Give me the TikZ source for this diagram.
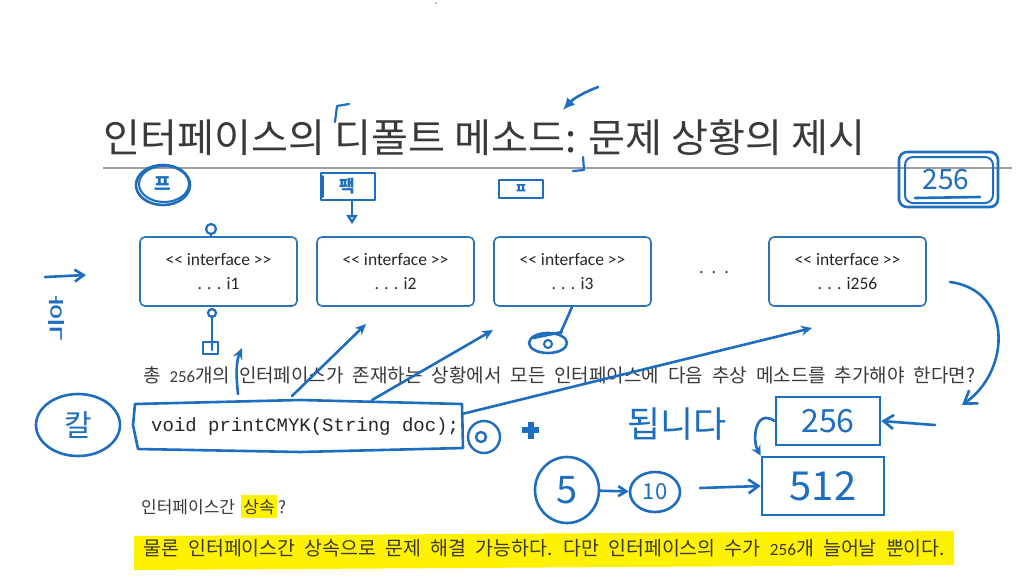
\documentclass[tikz,border=0pt]{standalone}
\usepackage{fontspec}
\usepackage{graphicx}
\newfontfamily\krfont{Noto Sans CJK KR}
\newfontfamily\calfont{Carlito}
\newfontfamily\codefont{Liberation Mono}
\usetikzlibrary{arrows.meta,shapes.geometric}
\definecolor{ink}{HTML}{1E6EC0}
\definecolor{boxblue}{HTML}{2E75B6}
\definecolor{hl}{HTML}{FFF200}
\definecolor{txt}{HTML}{3A3A3A}
\tikzset{
  ink/.style={draw=ink, line width=2.6pt, line cap=round, line join=round},
  inkarrow/.style={ink, -{Stealth[length=11pt,width=10pt]}},
  hw/.style={text=ink, inner sep=0pt},
  ibox/.style={draw=boxblue, line width=1.6pt, rounded corners=5pt,
    minimum width=157pt, minimum height=69pt, align=center,
    font=\calfont\fontsize{17.5}{24}\selectfont, text=black!85, inner sep=0pt},
  body/.style={anchor=base west, inner sep=0pt, text=txt}
}
\begin{document}
\begin{tikzpicture}[x=1pt,y=-1pt]
\useasboundingbox[fill=white] (0,0) rectangle (1032,584);
\fill[gray] (436,3) circle (0.8);

% highlights
\draw[hl, line width=34pt] (134,553) -- (954,548);

% title and rule
\node[body, text=txt] (title) at (103,152)
  {\resizebox{762pt}{33pt}{\krfont 인터페이스의 디폴트 메소드: 문제 상황의 제시}};
\draw[gray!75, line width=1.3pt] (103,168) coordinate (r1) -- (1012,168) coordinate (r2);

% interface boxes
\node[ibox] (i1) at (218.5,271.5) {<{}< interface >{}>\\. . . i1};
\node[ibox] (i2) at (395.5,271.5) {<{}< interface >{}>\\. . . i2};
\node[ibox] (i3) at (572.5,271.5) {<{}< interface >{}>\\. . . i3};
\node[ibox] (i256) at (847.5,271.5) {<{}< interface >{}>\\. . . i256};
\node[font=\calfont\fontsize{18}{20}\selectfont, text=black!80] (dots) at (714,273) {.\hspace{8pt}.\hspace{8pt}.};

% body text
\node[body] (q) at (143,382)
  {\resizebox{832pt}{!}{\krfont\fontsize{17}{17}\selectfont\spaceskip=8pt 총 {\calfont\fontsize{15}{15}\selectfont 256}개의 인터페이스가 존재하는 상황에서 모든 인터페이스에 다음 추상 메소드를 추가해야 한다면?}};
\node[body, font=\codefont\fontsize{19}{19}\selectfont, text=black!85] (code) at (151,431) {void printCMYK(String doc);};
\node[body, font=\krfont\fontsize{17}{17}\selectfont] (inh1) at (141,513) {인터페이스간};
\node[anchor=base west, inner xsep=2pt, inner ysep=4pt, fill=hl, text=txt, font=\krfont\fontsize{17}{17}\selectfont] (inh2) at ([xshift=6pt]inh1.base east) {상속};
\node[body, font=\krfont\fontsize{17}{17}\selectfont] (inh3) at ([xshift=1pt]inh2.base east) {?};
\node[body] (ans) at (143,555)
  {\resizebox{802pt}{!}{\krfont\fontsize{17}{17}\selectfont\spaceskip=8pt 물론 인터페이스간 상속으로 문제 해결 가능하다. 다만 인터페이스의 수가 {\calfont\fontsize{15}{15}\selectfont 256}개 늘어날 뿐이다.}};

% ---------------- handwritten annotations ----------------
% marks around title
\draw[ink, line width=2.2pt] (335,122) -- (337,106) -- (349,104);
\draw[ink, -{Latex[length=12pt,width=11pt]}] (598,87) .. controls (585,92) and (574,98) .. (563,110);
\draw[ink, line width=2.2pt] (583,157) -- (584,170) -- (573,171);

% top labels
\node[hw, font=\krfont\fontsize{18}{18}\selectfont\bfseries] (p1) at (163,184) {프};
\draw[ink] (163,185) ellipse (27pt and 20pt);
\draw[ink, line width=2pt] (164,184) ellipse (25pt and 18pt);
\node[hw, font=\krfont\fontsize{17}{17}\selectfont\bfseries] (p2) at (347,186) {팩};
\draw[ink] (321,173) rectangle (375,200);
\draw[ink, line width=2pt] (323,176) -- (323,197);
\coordinate (p2a) at (352,201);
\coordinate (p2b) at (352,224);
\draw[ink, -{Triangle[open,length=9pt,width=11pt]}] (p2a) -- (p2b);
\node[hw, font=\krfont\fontsize{14}{14}\selectfont\bfseries] (p3) at (521,189) {ㅍ};
\draw[ink] (499,180) rectangle (543,198);

\node[hw, font=\krfont\fontsize{28}{28}\selectfont] (n256a) at (946,180) {256};
\draw[ink] (899,152) [rounded corners=8pt] rectangle (998,207);
\draw[ink, line width=2pt] (905,157) [rounded corners=8pt] rectangle (993,203);
\draw[ink] (915,198) -- (980,197);

% marks near i1
\draw[ink, line width=2.2pt] (211,229) circle (5pt);
\draw[ink, line width=2.2pt] (211,234) -- (i1.north -| 211,0);
\coordinate (u1) at (212,350);
\draw[ink] (u1) -- (212,316);
\draw[ink, line width=2.2pt] (212,313) circle (4pt);
\draw[ink, line width=2.2pt] (203,342) rectangle (218,354);
\draw[inkarrow] (238,394) .. controls (236,375) and (236,362) .. (242,348);
\draw[inkarrow] (292,396) -- (366,324);
\draw[inkarrow] (372,400) -- (493,330);
% near i3
\draw[ink] (548,343) ellipse (19pt and 10pt);
\draw[ink, line width=2pt] (548,344) circle (4pt);
\draw[ink] (560,334) -- (572,307);
\draw[ink] (533,338) -- (562,332);
\draw[inkarrow] (462,414) -- (812,328);

% code box
\draw[ink] (135,404) -- (300,400) -- (462,404) -- (463,448) -- (300,452) -- (138,449) -- (133,425) -- cycle;
\node[hw, draw=ink, line width=2.4pt, circle, minimum size=32pt] (o1) at (484,437) {};
\draw[ink, line width=2.4pt] (481,437) circle (5pt);
\draw[ink, line width=6pt, line cap=butt] (522,430) -- (539,430);
\draw[ink, line width=6pt, line cap=butt] (530.5,421.5) -- (530.5,438.5);

% left side
\coordinate (la) at (45,277);
\coordinate (lb) at (86,275);
\draw[ink, -{Straight Barb[length=9pt,width=12pt]}] (la) -- (lb);
\node[hw, xscale=0.7, yscale=1.7, font=\krfont\fontsize{28}{28}\selectfont] (heuk) at (57,318) {흑};
\node[hw, font=\krfont\fontsize{30}{30}\selectfont] (kal) at (78,425) {칼};
\draw[ink] (78,425) ellipse (42pt and 31pt);

% right side
\node[hw, font=\krfont\fontsize{36}{36}\selectfont] (dnd) at (677,424) {됩니다};
\node[hw, draw=ink, line width=2.6pt, minimum width=104pt, minimum height=48pt, font=\krfont\fontsize{32}{32}\selectfont] (b256) at (828,421) {256};
\coordinate (ra) at (935,425);
\draw[ink, -{Straight Barb[length=10pt,width=14pt]}] (ra) -- (b256.east);
\coordinate (rc) at (950,282);
\coordinate (rd) at (962,405);
\draw[ink, -{Straight Barb[length=12pt,width=16pt]}] (rc) .. controls (1012,290) and (1012,370) .. (rd);
\node[hw, draw=ink, line width=2.6pt, minimum width=122pt, minimum height=58pt, font=\krfont\fontsize{40}{40}\selectfont] (b512) at (823,486) {512};
\draw[ink, -{Stealth[length=10pt,width=10pt]}] (b256.west) .. controls (755,408) and (752,440) .. (b512.north west);
\node[hw, draw=ink, line width=2.6pt, ellipse, minimum width=64pt, minimum height=66pt, font=\krfont\fontsize{38}{38}\selectfont] (c5) at (567,490) {5};
\node[hw, draw=ink, line width=2.6pt, ellipse, minimum width=50pt, minimum height=40pt, font=\krfont\fontsize{22}{22}\selectfont] (c10) at (655,492) {10};
\draw[ink, -{Straight Barb[length=8pt,width=10pt]}] (c5) -- (c10);
\coordinate (s1) at (700,488);
\draw[ink, -{Straight Barb[length=10pt,width=14pt]}] (s1) -- (b512.west);
\end{tikzpicture}
\end{document}
